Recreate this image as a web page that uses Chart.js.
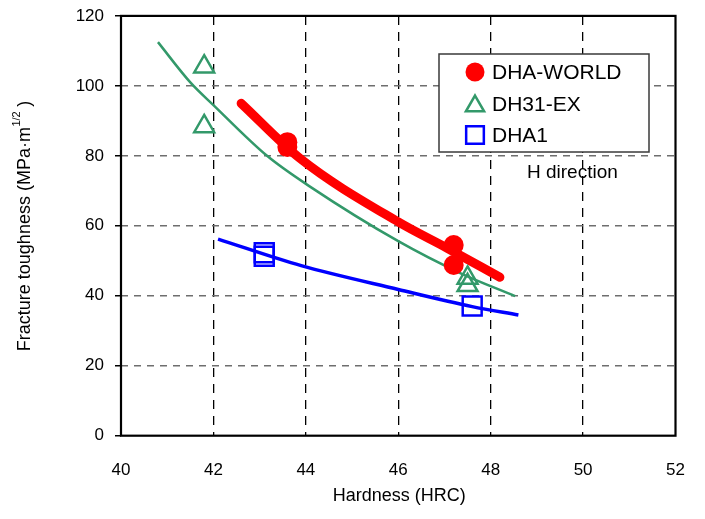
<!DOCTYPE html>
<html>
<head>
<meta charset="utf-8">
<script src="https://cdn.jsdelivr.net/npm/chart.js@4.4.1/dist/chart.umd.min.js"></script>
<style>
  html, body { margin: 0; padding: 0; background: #ffffff; }
  #wrap { width: 705px; height: 519px; position: relative; }
</style>
</head>
<body>
<div id="wrap"><canvas id="c"></canvas></div>
<script>
// ---- Data ----
const xTicks = [40, 42, 44, 46, 48, 50, 52];
const yTicks = [0, 20, 40, 60, 80, 100, 120];

const worldHardness = [43.6, 43.6, 47.2, 47.2];
const worldToughness = [83.9, 82.5, 54.5, 48.8];

const exHardness = [41.8, 41.8, 47.5, 47.5];
const exToughness = [105.5, 88.4, 45.1, 43.0];

const dha1Hardness = [43.1, 43.1, 47.6];
const dha1Toughness = [52.3, 51.3, 37.1];

// trend curves
const worldCurveX = [42.6, 43.87, 46.0, 47.06, 48.2];
const worldCurveY = [95.0, 79.3, 61.1, 53.6, 45.3];

const exCurveX = [40.8, 41.5, 42.0, 43.16, 44.09, 46.0, 47.34, 48.53];
const exCurveY = [112.5, 101.0, 94.5, 80.0, 71.2, 55.6, 46.5, 39.9];

const dha1CurveX = [42.1, 43.9, 46.0, 47.6, 48.6];
const dha1CurveY = [56.2, 48.6, 41.8, 36.9, 34.5];

const seriesNames = ["DHA-WORLD", "DH31-EX", "DHA1"];

const RED = "#ff0000", GREEN = "#33996a", BLUE = "#0000ff";
const FONT = "'Liberation Sans', Arial, sans-serif";

const pts = (xs, ys) => xs.map((x, i) => ({ x: x, y: ys[i] }));

const datasets = [
  { label: "exCurve", type: "line", data: pts(exCurveX, exCurveY), borderColor: GREEN, borderWidth: 2.5,
    pointRadius: 0, fill: false, cubicInterpolationMode: "monotone", order: 12 },
  { label: "dha1Curve", type: "line", data: pts(dha1CurveX, dha1CurveY), borderColor: BLUE, borderWidth: 3.5,
    pointRadius: 0, fill: false, cubicInterpolationMode: "monotone", order: 11 },
  { label: "worldCurve", type: "line", data: pts(worldCurveX, worldCurveY), borderColor: RED, borderWidth: 9,
    borderCapStyle: "round", pointRadius: 0, fill: false, cubicInterpolationMode: "monotone", order: 10 },
  { label: seriesNames[0], type: "scatter", data: pts(worldHardness, worldToughness), pointStyle: "circle",
    pointRadius: 10, backgroundColor: RED, borderColor: RED, borderWidth: 0, order: 3 },
  { label: seriesNames[2], type: "scatter", data: pts(dha1Hardness, dha1Toughness), pointStyle: "rect",
    pointRadius: 13.4, backgroundColor: "rgba(0,0,0,0)", borderColor: BLUE, borderWidth: 2.5, order: 2 },
  { label: seriesNames[1], type: "scatter", data: pts(exHardness, exToughness), pointStyle: "triangle",
    pointRadius: 11.5, backgroundColor: "rgba(0,0,0,0)", borderColor: GREEN, borderWidth: 2.5, order: 1 }
];

const framePlugin = {
  id: "frame",
  beforeDatasetsDraw(chart) {
    const a = chart.chartArea, ctx = chart.ctx;
    ctx.save();
    ctx.strokeStyle = "#000";
    ctx.lineWidth = 2.2;
    ctx.strokeRect(a.left, a.top, a.right - a.left, a.bottom - a.top);
    ctx.restore();
  }
};

const decorPlugin = {
  id: "decor",
  afterDraw(chart) {
    const ctx = chart.ctx, a = chart.chartArea;
    ctx.save();
    // x axis title
    ctx.fillStyle = "#000";
    ctx.font = "18px " + FONT;
    ctx.textAlign = "center";
    ctx.textBaseline = "middle";
    ctx.fillText("Hardness (HRC)", (a.left + a.right) / 2 + 1, 496);

    // y axis title with superscript
    ctx.save();
    ctx.translate(25, 226);
    ctx.rotate(-Math.PI / 2);
    const main = "Fracture toughness (MPa\u00b7m";
    const sup = "1/2";
    const tail = " )";
    ctx.font = "18px " + FONT;
    const w1 = ctx.measureText(main).width;
    const w3 = ctx.measureText(tail).width;
    ctx.font = "11px " + FONT;
    const w2 = ctx.measureText(sup).width;
    const total = w1 + w2 + w3;
    let x0 = -total / 2;
    ctx.textAlign = "left";
    ctx.textBaseline = "middle";
    ctx.font = "18px " + FONT;
    ctx.fillText(main, x0, 0);
    ctx.font = "11px " + FONT;
    ctx.fillText(sup, x0 + w1 + 0.5, -8);
    ctx.font = "18px " + FONT;
    ctx.fillText(tail, x0 + w1 + w2, 0);
    ctx.restore();

    // legend box
    const bx = 439, by = 54, bw = 210, bh = 98;
    ctx.fillStyle = "#fff";
    ctx.fillRect(bx, by, bw, bh);
    ctx.strokeStyle = "#3a3a3a";
    ctx.lineWidth = 1.5;
    ctx.strokeRect(bx, by, bw, bh);
    const entries = [
      { ds: chart.data.datasets[3], y: 72 },
      { ds: chart.data.datasets[5], y: 104 },
      { ds: chart.data.datasets[4], y: 135 }
    ];
    entries.forEach(e => {
      const ds = e.ds;
      const r = ds.pointStyle === "circle" ? 9.5 : (ds.pointStyle === "rect" ? 12.5 : 10.5);
      ctx.fillStyle = ds.backgroundColor;
      ctx.strokeStyle = ds.borderColor;
      ctx.lineWidth = ds.borderWidth;
      Chart.helpers.drawPoint(ctx, { pointStyle: ds.pointStyle, radius: r, borderWidth: ds.borderWidth, rotation: 0 }, 475, e.y + (ds.pointStyle === "triangle" ? 2 : 0));
      ctx.fillStyle = "#000";
      ctx.font = "21px " + FONT;
      ctx.textAlign = "left";
      ctx.textBaseline = "middle";
      ctx.fillText(ds.label, 492, e.y + 1);
    });

    // annotation
    ctx.font = "19px " + FONT;
    ctx.fillStyle = "#000";
    ctx.textAlign = "left";
    ctx.textBaseline = "middle";
    ctx.fillText("H direction", 527, 173);
    ctx.restore();
  }
};

const edge = (v, lo, hi) => v === lo || v === hi;

new Chart(document.getElementById("c"), {
  type: "scatter",
  data: { datasets: datasets },
  options: {
    responsive: true,
    maintainAspectRatio: false,
    animation: false,
    layout: { padding: { top: 15.7, right: 29.5, left: 0, bottom: 0 } },
    plugins: { legend: { display: false }, tooltip: { enabled: false } },
    scales: {
      x: {
        type: "linear", min: xTicks[0], max: xTicks[xTicks.length - 1],
        afterBuildTicks: s => { s.ticks = xTicks.map(v => ({ value: v })); },
        afterFit: s => { s.height = 519 - 435.7; s.paddingLeft = 0; s.paddingRight = 0; s.paddingTop = 0; s.paddingBottom = 0; },
        ticks: { color: "#000", font: { family: FONT, size: 17 }, padding: 24, maxRotation: 0 },
        grid: {
          drawTicks: false,
          color: c => edge(c.tick && c.tick.value, 40, 52) ? "rgba(0,0,0,0)" : "#000",
          lineWidth: 1.3
        },
        border: { display: false, dash: [9, 7] }
      },
      y: {
        type: "linear", min: yTicks[0], max: yTicks[yTicks.length - 1],
        afterBuildTicks: s => { s.ticks = yTicks.map(v => ({ value: v })); },
        afterFit: s => { s.width = 121; s.paddingLeft = 0; s.paddingRight = 0; s.paddingTop = 0; s.paddingBottom = 0; },
        ticks: { color: "#000", font: { family: FONT, size: 17 }, padding: 11 },
        grid: {
          drawTicks: true, tickLength: 6, tickColor: "#000", tickWidth: 1.5, tickBorderDash: [],
          color: c => edge(c.tick && c.tick.value, 0, 120) ? "rgba(0,0,0,0)" : "#6e6e6e",
          lineWidth: 1.5
        },
        border: { display: false, dash: [7, 6] }
      }
    }
  },
  plugins: [framePlugin, decorPlugin]
});
</script>
</body>
</html>
